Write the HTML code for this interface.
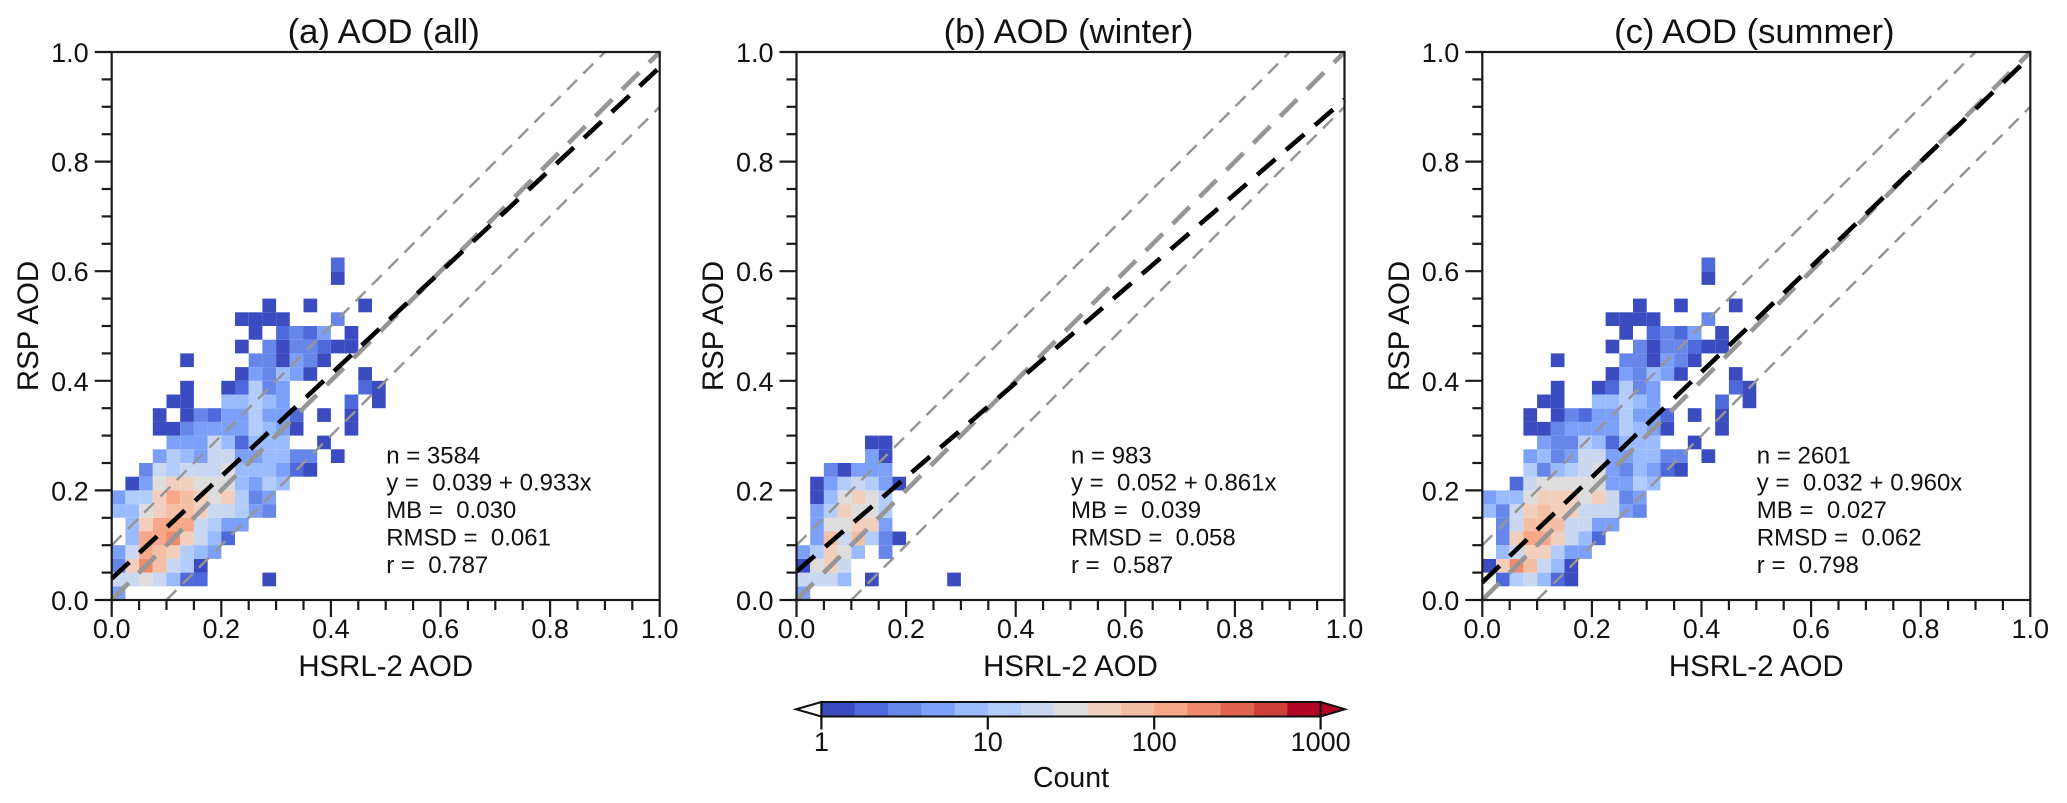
<!DOCTYPE html>
<html>
<head>
<meta charset="utf-8">
<title>AOD comparison</title>
<style>
html,body{margin:0;padding:0;background:#fff;width:2067px;height:803px;overflow:hidden}
svg{display:block}
text{font-family:"Liberation Sans",sans-serif;fill:#111}
</style>
</head>
<body>
<svg id="figure" xmlns="http://www.w3.org/2000/svg" width="2067" height="803" viewBox="0 0 2067 803"></svg>
<script>
var panelNames = ["all", "winter", "summer"];
var panelTitles = ["(a) AOD (all)", "(b) AOD (winter)", "(c) AOD (summer)"];
var intercepts = [0.039, 0.052, 0.032];
var slopes = [0.933, 0.861, 0.960];
var statN = ["3584", "983", "2601"];
var statFit = ["0.039 + 0.933x", "0.052 + 0.861x", "0.032 + 0.960x"];
var statMB = ["0.030", "0.039", "0.027"];
var statRMSD = ["0.061", "0.058", "0.062"];
var statR = ["0.787", "0.587", "0.798"];
var majorTicks = [0, 0.2, 0.4, 0.6, 0.8, 1.0];
var majorLabels = ["0.0", "0.2", "0.4", "0.6", "0.8", "1.0"];
var minorTicks = [0.05, 0.1, 0.15, 0.25, 0.3, 0.35, 0.45, 0.5, 0.55, 0.65, 0.7, 0.75, 0.85, 0.9, 0.95];
var colorbarTicks = [1, 10, 100, 1000];
var colorbarLabels = ["1", "10", "100", "1000"];
var binColors = ["#3a4cc0","#4e69da","#6686ea","#7c9ff8","#9abbff","#b3cdfb","#c9d7f0","#dddddd","#f2cfbd","#f5bfa5","#f7a688","#f08a6c","#e0654f","#cc4039","#b40426"];

var countsAll = [
[5],
[20,20,32,20,8,2,2,0,0,0,0,1],
[3,50,200,80,20,12,1],
[5,20,125,80,50,12,8,5],
[0,8,125,125,200,50,20,8,2],
[0,8,50,125,125,125,20,12,5,5],
[8,8,32,50,80,80,50,20,20,12,5,3],
[5,12,12,50,125,80,50,32,50,12,3,5],
[0,1,5,32,50,50,32,32,32,8,5,12,8],
[0,0,3,20,12,20,20,20,32,8,8,8,5,2,1],
[0,0,0,5,12,8,5,20,20,5,5,8,8,3,3,0,1],
[0,0,0,0,5,5,5,20,8,2,8,8,8,0,0,1],
[0,0,0,1,1,3,5,5,5,5,12,8,5,1,0,0,0,1],
[0,0,0,1,0,1,3,2,5,5,12,5,5,2,0,1,0,1],
[0,0,0,0,1,1,0,0,8,8,12,8,5,0,0,0,0,2,0,1],
[0,0,0,0,0,1,0,0,1,2,12,3,5,0,0,0,0,0,2,1],
[0,0,0,0,0,0,0,0,0,1,5,3,8,5,1,0,0,0,1],
[0,0,0,0,0,1,0,0,0,0,3,3,1,5,3,1],
[0,0,0,0,0,0,0,0,0,1,0,3,1,3,3,2,1,1],
[0,0,0,0,0,0,0,0,0,0,1,0,2,3,2,5,0,1],
[0,0,0,0,0,0,0,0,0,1,1,1,1,0,0,0,3],
[0,0,0,0,0,0,0,0,0,0,0,1,0,0,1,0,0,0,1],
[],
[0,0,0,0,0,0,0,0,0,0,0,0,0,0,0,0,1],
[0,0,0,0,0,0,0,0,0,0,0,0,0,0,0,0,2]
];
var countsWinter = [
[5],
[20,20,20,8,0,1,0,0,0,0,0,1],
[1,32,50,20],
[5,12,50,32,8,0,3],
[0,5,80,20,80,12,3,1],
[0,5,32,32,50,50,5],
[0,5,12,50,32,32,12],
[0,1,8,32,50,32,12],
[0,1,5,12,20,12,5,1],
[0,0,3,1,5,5,5],
[0,0,0,0,0,5,1],
[0,0,0,0,0,1,1]
];
var countsSummer = [
[],
[0,2,12,20,8,2,1],
[1,50,200,80,20,8,1],
[0,8,20,50,50,12,5,5],
[0,3,50,125,125,50,20,8,2],
[0,3,20,80,80,80,20,20,5,5],
[8,3,20,50,80,50,50,20,20,20,5,3],
[5,8,8,32,50,50,50,32,50,20,3,5],
[0,0,2,20,32,32,32,32,32,5,5,12,8],
[0,0,0,12,3,8,12,20,32,5,3,8,5,2,1],
[0,0,0,5,8,3,5,20,20,5,5,8,8,3,3,0,1],
[0,0,0,0,5,3,3,12,8,2,8,8,8,0,0,1],
[0,0,0,1,1,3,5,5,5,5,12,8,5,1,0,0,0,1],
[0,0,0,1,0,1,3,2,5,5,12,5,5,2,0,1,0,1],
[0,0,0,0,1,1,0,0,8,8,12,8,5,0,0,0,0,2,0,1],
[0,0,0,0,0,1,0,0,1,2,12,3,5,0,0,0,0,0,2,1],
[0,0,0,0,0,0,0,0,0,1,5,3,8,5,1,0,0,0,1],
[0,0,0,0,0,1,0,0,0,0,3,3,1,5,3,1],
[0,0,0,0,0,0,0,0,0,1,0,3,1,3,3,2,1,1],
[0,0,0,0,0,0,0,0,0,0,1,0,2,3,2,5,0,1],
[0,0,0,0,0,0,0,0,0,1,1,1,1,0,0,0,3],
[0,0,0,0,0,0,0,0,0,0,0,1,0,0,1,0,0,0,1],
[],
[0,0,0,0,0,0,0,0,0,0,0,0,0,0,0,0,1],
[0,0,0,0,0,0,0,0,0,0,0,0,0,0,0,0,2]
];
var panelCounts = [countsAll, countsWinter, countsSummer];

var NS = "http://www.w3.org/2000/svg";
var svg = document.getElementById("figure");
var panelLefts = [111.7, 796.5, 1482.3];
var plotTop = 52, plotSize = 548, binWidth = 0.025;

function make(tag, attrs, parent) {
  var el = document.createElementNS(NS, tag);
  for (var k in attrs) el.setAttribute(k, attrs[k]);
  (parent || svg).appendChild(el);
  return el;
}
function xScale(p, v) { return panelLefts[p] + v * plotSize; }
function yScale(v) { return plotTop + plotSize - v * plotSize; }
function colorFor(count) {
  var level = Math.floor(Math.log(count) / Math.LN10 / 3 * binColors.length);
  return binColors[Math.max(0, Math.min(binColors.length - 1, level))];
}
function addText(str, x, y, size, anchor, parent) {
  var t = make("text", {x: x, y: y, "font-size": size, "text-anchor": anchor || "start"}, parent);
  t.setAttribute("xml:space", "preserve");
  t.style.whiteSpace = "pre";
  t.textContent = str;
  return t;
}
function addLine(x1, y1, x2, y2, color, width, dash, parent) {
  var l = make("line", {x1: x1, y1: y1, x2: x2, y2: y2, stroke: color, "stroke-width": width}, parent);
  if (dash) l.setAttribute("stroke-dasharray", dash);
  return l;
}

panelNames.forEach(function (name, p) {
  var g = make("g", {});
  
  

  var heat = make("g", {}, g);
  
  
  panelCounts[p].forEach(function (row, j) {
    row.forEach(function (count, i) {
      if (!count) return;
      var x0 = xScale(p, i * binWidth), x1 = xScale(p, (i + 1) * binWidth);
      var y1 = yScale(j * binWidth), y0 = yScale((j + 1) * binWidth);
      var cell = make("rect", {x: x0, y: y0, width: x1 - x0, height: y1 - y0, fill: colorFor(count)}, heat);
      
      
    });
  });

  var up = addLine(xScale(p, 0), yScale(0.1), xScale(p, 0.9), yScale(1), "#969696", 2.5, "14 9", g);
  
  
  var down = addLine(xScale(p, 0.1), yScale(0), xScale(p, 1), yScale(0.9), "#969696", 2.5, "14 9", g);
  
  
  var one = addLine(xScale(p, 0), yScale(0), xScale(p, 1), yScale(1), "#969696", 4.6, "24 14", g);
  
  
  var fitEnd = Math.min(1, intercepts[p] + slopes[p]);
  var fit = addLine(xScale(p, 0), yScale(intercepts[p]), xScale(p, 1), yScale(fitEnd), "#000", 4.6, "24 14", g);
  
  

  var frame = make("rect", {x: xScale(p, 0), y: yScale(1), width: plotSize, height: plotSize, fill: "none", stroke: "#1a1a1a", "stroke-width": 2.2}, g);
  
  

  majorTicks.forEach(function (v, k) {
    var tx = addLine(xScale(p, v), yScale(0), xScale(p, v), yScale(0) + 17, "#1a1a1a", 2.2, null, g);
    
    
    var ty = addLine(xScale(p, 0) - 17, yScale(v), xScale(p, 0), yScale(v), "#1a1a1a", 2.2, null, g);
    
    
    var lx = addText(majorLabels[k], xScale(p, v), 638, 27, "middle", g);
    
    
    var ly = addText(majorLabels[k], xScale(p, 0) - 23, yScale(v) + 10, 27, "end", g);
    
    
  });
  minorTicks.forEach(function (v) {
    var tx = addLine(xScale(p, v), yScale(0), xScale(p, v), yScale(0) + 10, "#1a1a1a", 2.2, null, g);
    
    
    var ty = addLine(xScale(p, 0) - 10, yScale(v), xScale(p, 0), yScale(v), "#1a1a1a", 2.2, null, g);
    
    
  });

  var title = addText(panelTitles[p], xScale(p, 0.5) - 2, 43, 34.6, "middle", g);
  
  
  var xt = addText("HSRL-2 AOD", xScale(p, 0.5), 676, 29.4, "middle", g);
  
  
  var ytx = xScale(p, 0) - 73.5, yty = yScale(0.5);
  var yt = addText("RSP AOD", 0, 0, 29.4, "middle", g);
  yt.setAttribute("transform", "translate(" + ytx + "," + yty + ") rotate(-90)");
  
  

  var statX = xScale(p, 0) + 274.5;
  var s1 = addText("n = " + statN[p], statX, 463.3, 24, "start", g);
  
  
  var s2 = addText("y =  " + statFit[p], statX, 490.7, 24, "start", g);
  
  
  var s3 = addText("MB =  " + statMB[p], statX, 518.2, 24, "start", g);
  
  
  var s4 = addText("RMSD =  " + statRMSD[p], statX, 545.6, 24, "start", g);
  
  
  var s5 = addText("r =  " + statR[p], statX, 573, 24, "start", g);
  
  
});

var barLeft = 821.4, barRight = 1320.6, barTop = 702, barBottom = 716.5, barMid = (barTop + barBottom) / 2;
function barScale(count) { return barLeft + (Math.log(count) / Math.LN10 / 3) * (barRight - barLeft); }
var bar = make("g", {});


var seg = (barRight - barLeft) / binColors.length;
binColors.forEach(function (c, i) {
  var r = make("rect", {x: barLeft + i * seg, y: barTop, width: seg + 0.4, height: barBottom - barTop, fill: c}, bar);
  
  
});
var leftArrow = make("polygon", {points: barLeft + "," + barTop + " 796," + barMid + " " + barLeft + "," + barBottom, fill: "#fff", stroke: "#111", "stroke-width": 2}, bar);


var rightArrow = make("polygon", {points: barRight + "," + barTop + " 1345," + barMid + " " + barRight + "," + barBottom, fill: binColors[binColors.length - 1], stroke: "#111", "stroke-width": 2}, bar);


var barFrame = make("rect", {x: barLeft, y: barTop, width: barRight - barLeft, height: barBottom - barTop, fill: "none", stroke: "#111", "stroke-width": 2}, bar);


colorbarTicks.forEach(function (v, k) {
  var t = addLine(barScale(v), barBottom, barScale(v), barBottom + 13, "#111", 2.2, null, bar);
  
  
  var l = addText(colorbarLabels[k], barScale(v), 751, 27, "middle", bar);
  
  
});
var barTitle = addText("Count", 1071, 787, 28.5, "middle", bar);


</script>
</body>
</html>
